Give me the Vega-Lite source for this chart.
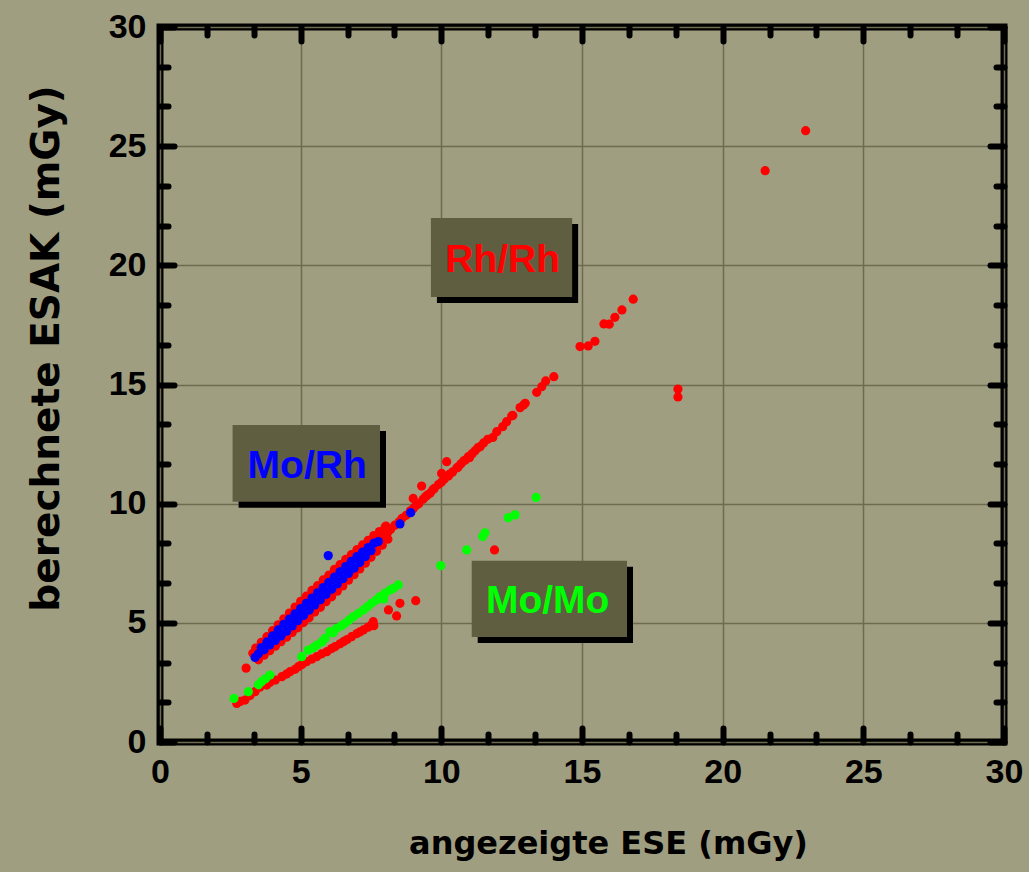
{
 "$schema": "https://vega.github.io/schema/vega-lite/v6.json",
 "width": 844,
 "height": 715,
 "autosize": "none",
 "padding": {"left": 160, "top": 27, "right": 25, "bottom": 130},
 "background": "#a09e80",
 "config": {
  "view": {"stroke": "#000000", "strokeWidth": 7},
  "axis": {
   "domain": false,
   "tickColor": "#000000",
   "tickWidth": 6,
   "tickCap": "round",
   "gridColor": "#6e6c50",
   "gridWidth": 1.5,
   "gridOpacity": 1,
   "titleColor": "#000000",
   "labelFlush": false,
   "labelOverlap": false
  }
 },
 "datasets": {
  "points": [
   {"ese": 3.06, "esak": 3.1, "combo": "Rh/Rh"},
   {"ese": 3.3, "esak": 3.72, "combo": "Rh/Rh"},
   {"ese": 3.4, "esak": 3.94, "combo": "Rh/Rh"},
   {"ese": 3.6, "esak": 4.18, "combo": "Rh/Rh"},
   {"ese": 3.8, "esak": 4.42, "combo": "Rh/Rh"},
   {"ese": 4.0, "esak": 4.67, "combo": "Rh/Rh"},
   {"ese": 4.2, "esak": 4.92, "combo": "Rh/Rh"},
   {"ese": 4.4, "esak": 5.17, "combo": "Rh/Rh"},
   {"ese": 4.6, "esak": 5.41, "combo": "Rh/Rh"},
   {"ese": 4.8, "esak": 5.66, "combo": "Rh/Rh"},
   {"ese": 5.0, "esak": 5.9, "combo": "Rh/Rh"},
   {"ese": 5.2, "esak": 6.12, "combo": "Rh/Rh"},
   {"ese": 5.4, "esak": 6.36, "combo": "Rh/Rh"},
   {"ese": 5.6, "esak": 6.56, "combo": "Rh/Rh"},
   {"ese": 5.8, "esak": 6.8, "combo": "Rh/Rh"},
   {"ese": 6.0, "esak": 7.0, "combo": "Rh/Rh"},
   {"ese": 6.2, "esak": 7.24, "combo": "Rh/Rh"},
   {"ese": 6.4, "esak": 7.44, "combo": "Rh/Rh"},
   {"ese": 6.6, "esak": 7.66, "combo": "Rh/Rh"},
   {"ese": 6.8, "esak": 7.86, "combo": "Rh/Rh"},
   {"ese": 7.0, "esak": 8.07, "combo": "Rh/Rh"},
   {"ese": 7.2, "esak": 8.27, "combo": "Rh/Rh"},
   {"ese": 7.4, "esak": 8.46, "combo": "Rh/Rh"},
   {"ese": 7.6, "esak": 8.66, "combo": "Rh/Rh"},
   {"ese": 7.8, "esak": 8.83, "combo": "Rh/Rh"},
   {"ese": 8.0, "esak": 9.0, "combo": "Rh/Rh"},
   {"ese": 3.5, "esak": 3.45, "combo": "Rh/Rh"},
   {"ese": 3.7, "esak": 3.64, "combo": "Rh/Rh"},
   {"ese": 3.9, "esak": 3.83, "combo": "Rh/Rh"},
   {"ese": 4.1, "esak": 4.02, "combo": "Rh/Rh"},
   {"ese": 4.3, "esak": 4.21, "combo": "Rh/Rh"},
   {"ese": 4.5, "esak": 4.4, "combo": "Rh/Rh"},
   {"ese": 4.7, "esak": 4.6, "combo": "Rh/Rh"},
   {"ese": 4.9, "esak": 4.79, "combo": "Rh/Rh"},
   {"ese": 5.1, "esak": 5.01, "combo": "Rh/Rh"},
   {"ese": 5.3, "esak": 5.21, "combo": "Rh/Rh"},
   {"ese": 5.5, "esak": 5.45, "combo": "Rh/Rh"},
   {"ese": 5.7, "esak": 5.65, "combo": "Rh/Rh"},
   {"ese": 5.9, "esak": 5.89, "combo": "Rh/Rh"},
   {"ese": 6.1, "esak": 6.09, "combo": "Rh/Rh"},
   {"ese": 6.3, "esak": 6.33, "combo": "Rh/Rh"},
   {"ese": 6.5, "esak": 6.55, "combo": "Rh/Rh"},
   {"ese": 6.7, "esak": 6.79, "combo": "Rh/Rh"},
   {"ese": 6.9, "esak": 7.02, "combo": "Rh/Rh"},
   {"ese": 7.1, "esak": 7.26, "combo": "Rh/Rh"},
   {"ese": 7.3, "esak": 7.5, "combo": "Rh/Rh"},
   {"ese": 7.5, "esak": 7.75, "combo": "Rh/Rh"},
   {"ese": 7.7, "esak": 8.0, "combo": "Rh/Rh"},
   {"ese": 7.9, "esak": 8.26, "combo": "Rh/Rh"},
   {"ese": 8.1, "esak": 8.51, "combo": "Rh/Rh"},
   {"ese": 7.7, "esak": 8.37, "combo": "Rh/Rh"},
   {"ese": 7.85, "esak": 8.54, "combo": "Rh/Rh"},
   {"ese": 8.0, "esak": 8.7, "combo": "Rh/Rh"},
   {"ese": 8.1, "esak": 8.8, "combo": "Rh/Rh"},
   {"ese": 8.2, "esak": 8.93, "combo": "Rh/Rh"},
   {"ese": 8.35, "esak": 9.1, "combo": "Rh/Rh"},
   {"ese": 8.5, "esak": 9.24, "combo": "Rh/Rh"},
   {"ese": 8.6, "esak": 9.38, "combo": "Rh/Rh"},
   {"ese": 8.75, "esak": 9.51, "combo": "Rh/Rh"},
   {"ese": 8.9, "esak": 9.7, "combo": "Rh/Rh"},
   {"ese": 9.0, "esak": 9.79, "combo": "Rh/Rh"},
   {"ese": 9.1, "esak": 9.92, "combo": "Rh/Rh"},
   {"ese": 9.2, "esak": 10.0, "combo": "Rh/Rh"},
   {"ese": 9.35, "esak": 10.19, "combo": "Rh/Rh"},
   {"ese": 9.45, "esak": 10.3, "combo": "Rh/Rh"},
   {"ese": 9.5, "esak": 10.36, "combo": "Rh/Rh"},
   {"ese": 9.6, "esak": 10.44, "combo": "Rh/Rh"},
   {"ese": 9.7, "esak": 10.58, "combo": "Rh/Rh"},
   {"ese": 9.75, "esak": 10.64, "combo": "Rh/Rh"},
   {"ese": 9.9, "esak": 10.8, "combo": "Rh/Rh"},
   {"ese": 10.0, "esak": 10.9, "combo": "Rh/Rh"},
   {"ese": 10.1, "esak": 11.02, "combo": "Rh/Rh"},
   {"ese": 10.25, "esak": 11.16, "combo": "Rh/Rh"},
   {"ese": 10.3, "esak": 11.24, "combo": "Rh/Rh"},
   {"ese": 10.4, "esak": 11.33, "combo": "Rh/Rh"},
   {"ese": 10.55, "esak": 11.5, "combo": "Rh/Rh"},
   {"ese": 10.6, "esak": 11.54, "combo": "Rh/Rh"},
   {"ese": 10.7, "esak": 11.67, "combo": "Rh/Rh"},
   {"ese": 10.8, "esak": 11.8, "combo": "Rh/Rh"},
   {"ese": 10.85, "esak": 11.83, "combo": "Rh/Rh"},
   {"ese": 10.96, "esak": 11.97, "combo": "Rh/Rh"},
   {"ese": 11.0, "esak": 11.93, "combo": "Rh/Rh"},
   {"ese": 11.1, "esak": 12.1, "combo": "Rh/Rh"},
   {"ese": 11.2, "esak": 12.22, "combo": "Rh/Rh"},
   {"ese": 11.3, "esak": 12.35, "combo": "Rh/Rh"},
   {"ese": 11.38, "esak": 12.39, "combo": "Rh/Rh"},
   {"ese": 11.5, "esak": 12.55, "combo": "Rh/Rh"},
   {"ese": 11.65, "esak": 12.7, "combo": "Rh/Rh"},
   {"ese": 11.83, "esak": 12.78, "combo": "Rh/Rh"},
   {"ese": 11.97, "esak": 13.02, "combo": "Rh/Rh"},
   {"ese": 12.18, "esak": 13.23, "combo": "Rh/Rh"},
   {"ese": 12.32, "esak": 13.44, "combo": "Rh/Rh"},
   {"ese": 12.5, "esak": 13.68, "combo": "Rh/Rh"},
   {"ese": 12.54, "esak": 13.7, "combo": "Rh/Rh"},
   {"ese": 12.8, "esak": 14.03, "combo": "Rh/Rh"},
   {"ese": 12.92, "esak": 14.14, "combo": "Rh/Rh"},
   {"ese": 12.98, "esak": 14.21, "combo": "Rh/Rh"},
   {"ese": 13.39, "esak": 14.67, "combo": "Rh/Rh"},
   {"ese": 13.57, "esak": 14.91, "combo": "Rh/Rh"},
   {"ese": 13.71, "esak": 15.15, "combo": "Rh/Rh"},
   {"ese": 14.0, "esak": 15.33, "combo": "Rh/Rh"},
   {"ese": 14.93, "esak": 16.59, "combo": "Rh/Rh"},
   {"ese": 15.22, "esak": 16.62, "combo": "Rh/Rh"},
   {"ese": 15.46, "esak": 16.81, "combo": "Rh/Rh"},
   {"ese": 15.78, "esak": 17.54, "combo": "Rh/Rh"},
   {"ese": 15.97, "esak": 17.53, "combo": "Rh/Rh"},
   {"ese": 16.17, "esak": 17.82, "combo": "Rh/Rh"},
   {"ese": 16.42, "esak": 18.13, "combo": "Rh/Rh"},
   {"ese": 16.82, "esak": 18.58, "combo": "Rh/Rh"},
   {"ese": 8.03, "esak": 9.06, "combo": "Rh/Rh"},
   {"ese": 9.0, "esak": 10.22, "combo": "Rh/Rh"},
   {"ese": 9.3, "esak": 10.74, "combo": "Rh/Rh"},
   {"ese": 10.19, "esak": 11.76, "combo": "Rh/Rh"},
   {"ese": 10.01, "esak": 11.27, "combo": "Rh/Rh"},
   {"ese": 18.41, "esak": 14.81, "combo": "Rh/Rh"},
   {"ese": 18.41, "esak": 14.48, "combo": "Rh/Rh"},
   {"ese": 21.51, "esak": 23.97, "combo": "Rh/Rh"},
   {"ese": 22.95, "esak": 25.65, "combo": "Rh/Rh"},
   {"ese": 2.73, "esak": 1.62, "combo": "Rh/Rh"},
   {"ese": 2.85, "esak": 1.7, "combo": "Rh/Rh"},
   {"ese": 3.02, "esak": 1.76, "combo": "Rh/Rh"},
   {"ese": 3.2, "esak": 1.95, "combo": "Rh/Rh"},
   {"ese": 3.38, "esak": 2.11, "combo": "Rh/Rh"},
   {"ese": 3.55, "esak": 2.3, "combo": "Rh/Rh"},
   {"ese": 3.79, "esak": 2.39, "combo": "Rh/Rh"},
   {"ese": 3.9, "esak": 2.5, "combo": "Rh/Rh"},
   {"ese": 4.1, "esak": 2.6, "combo": "Rh/Rh"},
   {"ese": 4.33, "esak": 2.74, "combo": "Rh/Rh"},
   {"ese": 4.5, "esak": 2.85, "combo": "Rh/Rh"},
   {"ese": 4.62, "esak": 2.95, "combo": "Rh/Rh"},
   {"ese": 4.8, "esak": 3.05, "combo": "Rh/Rh"},
   {"ese": 4.92, "esak": 3.16, "combo": "Rh/Rh"},
   {"ese": 5.05, "esak": 3.25, "combo": "Rh/Rh"},
   {"ese": 5.21, "esak": 3.37, "combo": "Rh/Rh"},
   {"ese": 5.4, "esak": 3.48, "combo": "Rh/Rh"},
   {"ese": 5.57, "esak": 3.58, "combo": "Rh/Rh"},
   {"ese": 5.75, "esak": 3.7, "combo": "Rh/Rh"},
   {"ese": 5.93, "esak": 3.79, "combo": "Rh/Rh"},
   {"ese": 6.1, "esak": 3.92, "combo": "Rh/Rh"},
   {"ese": 6.22, "esak": 4.0, "combo": "Rh/Rh"},
   {"ese": 6.4, "esak": 4.12, "combo": "Rh/Rh"},
   {"ese": 6.52, "esak": 4.21, "combo": "Rh/Rh"},
   {"ese": 6.65, "esak": 4.3, "combo": "Rh/Rh"},
   {"ese": 6.81, "esak": 4.42, "combo": "Rh/Rh"},
   {"ese": 7.0, "esak": 4.55, "combo": "Rh/Rh"},
   {"ese": 7.1, "esak": 4.62, "combo": "Rh/Rh"},
   {"ese": 7.23, "esak": 4.7, "combo": "Rh/Rh"},
   {"ese": 7.4, "esak": 4.82, "combo": "Rh/Rh"},
   {"ese": 7.52, "esak": 4.91, "combo": "Rh/Rh"},
   {"ese": 7.58, "esak": 5.05, "combo": "Rh/Rh"},
   {"ese": 7.6, "esak": 4.88, "combo": "Rh/Rh"},
   {"ese": 8.12, "esak": 5.54, "combo": "Rh/Rh"},
   {"ese": 8.41, "esak": 5.29, "combo": "Rh/Rh"},
   {"ese": 8.53, "esak": 5.82, "combo": "Rh/Rh"},
   {"ese": 9.09, "esak": 5.93, "combo": "Rh/Rh"},
   {"ese": 11.89, "esak": 8.06, "combo": "Rh/Rh"},
   {"ese": 2.63, "esak": 1.83, "combo": "Mo/Mo"},
   {"ese": 3.14, "esak": 2.11, "combo": "Mo/Mo"},
   {"ese": 3.5, "esak": 2.4, "combo": "Mo/Mo"},
   {"ese": 3.61, "esak": 2.53, "combo": "Mo/Mo"},
   {"ese": 3.75, "esak": 2.65, "combo": "Mo/Mo"},
   {"ese": 3.91, "esak": 2.81, "combo": "Mo/Mo"},
   {"ese": 5.04, "esak": 3.58, "combo": "Mo/Mo"},
   {"ese": 5.27, "esak": 3.86, "combo": "Mo/Mo"},
   {"ese": 5.45, "esak": 3.95, "combo": "Mo/Mo"},
   {"ese": 5.57, "esak": 4.07, "combo": "Mo/Mo"},
   {"ese": 5.75, "esak": 4.2, "combo": "Mo/Mo"},
   {"ese": 5.87, "esak": 4.35, "combo": "Mo/Mo"},
   {"ese": 6.04, "esak": 4.63, "combo": "Mo/Mo"},
   {"ese": 6.15, "esak": 4.58, "combo": "Mo/Mo"},
   {"ese": 6.28, "esak": 4.77, "combo": "Mo/Mo"},
   {"ese": 6.45, "esak": 4.88, "combo": "Mo/Mo"},
   {"ese": 6.58, "esak": 4.98, "combo": "Mo/Mo"},
   {"ese": 6.72, "esak": 5.12, "combo": "Mo/Mo"},
   {"ese": 6.87, "esak": 5.26, "combo": "Mo/Mo"},
   {"ese": 7.05, "esak": 5.4, "combo": "Mo/Mo"},
   {"ese": 7.23, "esak": 5.54, "combo": "Mo/Mo"},
   {"ese": 7.38, "esak": 5.68, "combo": "Mo/Mo"},
   {"ese": 7.52, "esak": 5.82, "combo": "Mo/Mo"},
   {"ese": 7.68, "esak": 5.95, "combo": "Mo/Mo"},
   {"ese": 7.82, "esak": 6.1, "combo": "Mo/Mo"},
   {"ese": 7.95, "esak": 6.0, "combo": "Mo/Mo"},
   {"ese": 8.0, "esak": 6.25, "combo": "Mo/Mo"},
   {"ese": 8.18, "esak": 6.38, "combo": "Mo/Mo"},
   {"ese": 8.3, "esak": 6.45, "combo": "Mo/Mo"},
   {"ese": 8.47, "esak": 6.59, "combo": "Mo/Mo"},
   {"ese": 9.98, "esak": 7.4, "combo": "Mo/Mo"},
   {"ese": 10.9, "esak": 8.06, "combo": "Mo/Mo"},
   {"ese": 11.47, "esak": 8.62, "combo": "Mo/Mo"},
   {"ese": 11.55, "esak": 8.78, "combo": "Mo/Mo"},
   {"ese": 12.38, "esak": 9.41, "combo": "Mo/Mo"},
   {"ese": 12.62, "esak": 9.53, "combo": "Mo/Mo"},
   {"ese": 13.37, "esak": 10.26, "combo": "Mo/Mo"},
   {"ese": 3.38, "esak": 3.55, "combo": "Mo/Rh"},
   {"ese": 3.5, "esak": 3.7, "combo": "Mo/Rh"},
   {"ese": 3.6, "esak": 3.96, "combo": "Mo/Rh"},
   {"ese": 3.7, "esak": 3.87, "combo": "Mo/Rh"},
   {"ese": 3.8, "esak": 4.2, "combo": "Mo/Rh"},
   {"ese": 3.9, "esak": 4.07, "combo": "Mo/Rh"},
   {"ese": 4.0, "esak": 4.45, "combo": "Mo/Rh"},
   {"ese": 4.1, "esak": 4.26, "combo": "Mo/Rh"},
   {"ese": 4.2, "esak": 4.7, "combo": "Mo/Rh"},
   {"ese": 4.3, "esak": 4.45, "combo": "Mo/Rh"},
   {"ese": 4.4, "esak": 4.94, "combo": "Mo/Rh"},
   {"ese": 4.5, "esak": 4.65, "combo": "Mo/Rh"},
   {"ese": 4.6, "esak": 5.16, "combo": "Mo/Rh"},
   {"ese": 4.7, "esak": 4.87, "combo": "Mo/Rh"},
   {"ese": 4.8, "esak": 5.38, "combo": "Mo/Rh"},
   {"ese": 4.9, "esak": 5.09, "combo": "Mo/Rh"},
   {"ese": 5.0, "esak": 5.6, "combo": "Mo/Rh"},
   {"ese": 5.1, "esak": 5.31, "combo": "Mo/Rh"},
   {"ese": 5.2, "esak": 5.82, "combo": "Mo/Rh"},
   {"ese": 5.3, "esak": 5.53, "combo": "Mo/Rh"},
   {"ese": 5.4, "esak": 6.04, "combo": "Mo/Rh"},
   {"ese": 5.5, "esak": 5.75, "combo": "Mo/Rh"},
   {"ese": 5.6, "esak": 6.26, "combo": "Mo/Rh"},
   {"ese": 5.7, "esak": 5.97, "combo": "Mo/Rh"},
   {"ese": 5.8, "esak": 6.48, "combo": "Mo/Rh"},
   {"ese": 5.9, "esak": 6.19, "combo": "Mo/Rh"},
   {"ese": 6.0, "esak": 6.7, "combo": "Mo/Rh"},
   {"ese": 6.1, "esak": 6.41, "combo": "Mo/Rh"},
   {"ese": 6.2, "esak": 6.92, "combo": "Mo/Rh"},
   {"ese": 6.3, "esak": 6.63, "combo": "Mo/Rh"},
   {"ese": 6.4, "esak": 7.14, "combo": "Mo/Rh"},
   {"ese": 6.5, "esak": 6.85, "combo": "Mo/Rh"},
   {"ese": 6.6, "esak": 7.36, "combo": "Mo/Rh"},
   {"ese": 6.7, "esak": 7.07, "combo": "Mo/Rh"},
   {"ese": 6.8, "esak": 7.58, "combo": "Mo/Rh"},
   {"ese": 6.9, "esak": 7.29, "combo": "Mo/Rh"},
   {"ese": 7.0, "esak": 7.78, "combo": "Mo/Rh"},
   {"ese": 7.1, "esak": 7.53, "combo": "Mo/Rh"},
   {"ese": 7.2, "esak": 7.97, "combo": "Mo/Rh"},
   {"ese": 7.3, "esak": 7.78, "combo": "Mo/Rh"},
   {"ese": 7.4, "esak": 8.16, "combo": "Mo/Rh"},
   {"ese": 7.5, "esak": 8.03, "combo": "Mo/Rh"},
   {"ese": 7.6, "esak": 8.34, "combo": "Mo/Rh"},
   {"ese": 7.76, "esak": 8.41, "combo": "Mo/Rh"},
   {"ese": 4.25, "esak": 4.58, "combo": "Mo/Rh"},
   {"ese": 4.65, "esak": 5.02, "combo": "Mo/Rh"},
   {"ese": 5.05, "esak": 5.46, "combo": "Mo/Rh"},
   {"ese": 5.45, "esak": 5.9, "combo": "Mo/Rh"},
   {"ese": 5.85, "esak": 6.34, "combo": "Mo/Rh"},
   {"ese": 6.25, "esak": 6.78, "combo": "Mo/Rh"},
   {"ese": 6.65, "esak": 7.22, "combo": "Mo/Rh"},
   {"ese": 7.05, "esak": 7.66, "combo": "Mo/Rh"},
   {"ese": 7.45, "esak": 8.1, "combo": "Mo/Rh"},
   {"ese": 5.98, "esak": 7.82, "combo": "Mo/Rh"},
   {"ese": 8.53, "esak": 9.15, "combo": "Mo/Rh"},
   {"ese": 8.91, "esak": 9.62, "combo": "Mo/Rh"}
  ],
  "boxes": [
   {"combo": "Rh/Rh", "x1": 9.63, "x2": 14.65, "y1": 18.67, "y2": 21.99, "tx": 12.18, "ty": 19.72},
   {"combo": "Mo/Rh", "x1": 2.58, "x2": 7.82, "y1": 10.08, "y2": 13.3, "tx": 5.23, "ty": 11.08},
   {"combo": "Mo/Mo", "x1": 11.08, "x2": 16.6, "y1": 4.41, "y2": 7.61, "tx": 13.78, "ty": 5.4}
  ]
 },
 "data": {"name": "points"},
 "resolve": {"axis": {"x": "independent", "y": "independent"}},
 "layer": [
  {
   "mark": {"type": "circle", "size": 85, "opacity": 1},
   "encoding": {
    "x": {"field": "ese", "type": "quantitative",
     "scale": {"domain": [0, 30], "nice": false, "zero": false},
     "axis": {"orient": "bottom", "values": [0, 5, 10, 15, 20, 25, 30], "grid": true, "tickSize": -14, "labelPadding": 27,
      "labelFont": "Liberation Sans", "labelFontWeight": "bold", "labelFontSize": 34, "labelColor": "#000000",
      "title": "angezeigte ESE (mGy)", "titleFont": "DejaVu Sans", "titleFontWeight": "bold", "titleFontSize": 32, "titleX": 448, "titleY": 111, "titleAlign": "center", "titleBaseline": "alphabetic"}},
    "y": {"field": "esak", "type": "quantitative",
     "scale": {"domain": [0, 30], "nice": false, "zero": false},
     "axis": {"orient": "left", "values": [0, 5, 10, 15, 20, 25, 30], "grid": true, "tickSize": -14, "labelPadding": 28,
      "labelFont": "Liberation Sans", "labelFontWeight": "bold", "labelFontSize": 34, "labelColor": "#000000",
      "title": "berechnete ESAK (mGy)", "titleFont": "DejaVu Sans", "titleFontWeight": "bold", "titleFontSize": 39, "titleAngle": -90, "titleX": -102, "titleY": 321, "titleAlign": "center", "titleBaseline": "alphabetic"}},
    "color": {"field": "combo", "type": "nominal",
     "scale": {"domain": ["Rh/Rh", "Mo/Mo", "Mo/Rh"], "range": ["#ff0000", "#00ff00", "#0000ff"]}, "legend": null}
   }
  },
  {
   "mark": {"type": "point", "opacity": 0},
   "encoding": {
    "x": {"field": "ese", "type": "quantitative", "scale": {"domain": [0, 30], "nice": false, "zero": false},
     "axis": {"orient": "bottom", "values": [1.6667, 3.3333, 6.6667, 8.3333, 11.6667, 13.3333, 16.6667, 18.3333, 21.6667, 23.3333, 26.6667, 28.3333], "grid": false, "labels": false, "tickSize": -8, "title": null}},
    "y": {"field": "esak", "type": "quantitative", "scale": {"domain": [0, 30], "nice": false, "zero": false},
     "axis": {"orient": "left", "values": [1.6667, 3.3333, 6.6667, 8.3333, 11.6667, 13.3333, 16.6667, 18.3333, 21.6667, 23.3333, 26.6667, 28.3333], "grid": false, "labels": false, "tickSize": -8, "title": null}}
   }
  },
  {
   "mark": {"type": "point", "opacity": 0},
   "encoding": {
    "x": {"field": "ese", "type": "quantitative", "scale": {"domain": [0, 30], "nice": false, "zero": false},
     "axis": {"orient": "top", "values": [0, 5, 10, 15, 20, 25, 30], "grid": false, "labels": false, "tickSize": -14, "title": null}},
    "y": {"field": "esak", "type": "quantitative", "scale": {"domain": [0, 30], "nice": false, "zero": false},
     "axis": {"orient": "right", "values": [0, 5, 10, 15, 20, 25, 30], "grid": false, "labels": false, "tickSize": -14, "title": null}}
   }
  },
  {
   "mark": {"type": "point", "opacity": 0},
   "encoding": {
    "x": {"field": "ese", "type": "quantitative", "scale": {"domain": [0, 30], "nice": false, "zero": false},
     "axis": {"orient": "top", "values": [1.6667, 3.3333, 6.6667, 8.3333, 11.6667, 13.3333, 16.6667, 18.3333, 21.6667, 23.3333, 26.6667, 28.3333], "grid": false, "labels": false, "tickSize": -8, "title": null}},
    "y": {"field": "esak", "type": "quantitative", "scale": {"domain": [0, 30], "nice": false, "zero": false},
     "axis": {"orient": "right", "values": [1.6667, 3.3333, 6.6667, 8.3333, 11.6667, 13.3333, 16.6667, 18.3333, 21.6667, 23.3333, 26.6667, 28.3333], "grid": false, "labels": false, "tickSize": -8, "title": null}}
   }
  },
  {
   "data": {"name": "boxes"},
   "mark": {"type": "rect", "color": "#000000", "xOffset": 6, "x2Offset": 6, "yOffset": 6, "y2Offset": 6},
   "encoding": {
    "x": {"field": "x1", "type": "quantitative", "scale": {"domain": [0, 30], "nice": false, "zero": false}, "axis": null},
    "x2": {"field": "x2"},
    "y": {"field": "y1", "type": "quantitative", "scale": {"domain": [0, 30], "nice": false, "zero": false}, "axis": null},
    "y2": {"field": "y2"}
   }
  },
  {
   "data": {"name": "boxes"},
   "mark": {"type": "rect", "color": "#5f5e40"},
   "encoding": {
    "x": {"field": "x1", "type": "quantitative", "scale": {"domain": [0, 30], "nice": false, "zero": false}, "axis": null},
    "x2": {"field": "x2"},
    "y": {"field": "y1", "type": "quantitative", "scale": {"domain": [0, 30], "nice": false, "zero": false}, "axis": null},
    "y2": {"field": "y2"}
   }
  },
  {
   "data": {"name": "boxes"},
   "mark": {"type": "text", "font": "Liberation Sans", "fontWeight": "bold", "fontSize": 39, "align": "center", "baseline": "alphabetic"},
   "encoding": {
    "x": {"field": "tx", "type": "quantitative", "scale": {"domain": [0, 30], "nice": false, "zero": false}, "axis": null},
    "y": {"field": "ty", "type": "quantitative", "scale": {"domain": [0, 30], "nice": false, "zero": false}, "axis": null},
    "text": {"field": "combo"},
    "color": {"field": "combo", "type": "nominal", "scale": {"domain": ["Rh/Rh", "Mo/Mo", "Mo/Rh"], "range": ["#ff0000", "#00ff00", "#0000ff"]}, "legend": null}
   }
  }
 ]
}
